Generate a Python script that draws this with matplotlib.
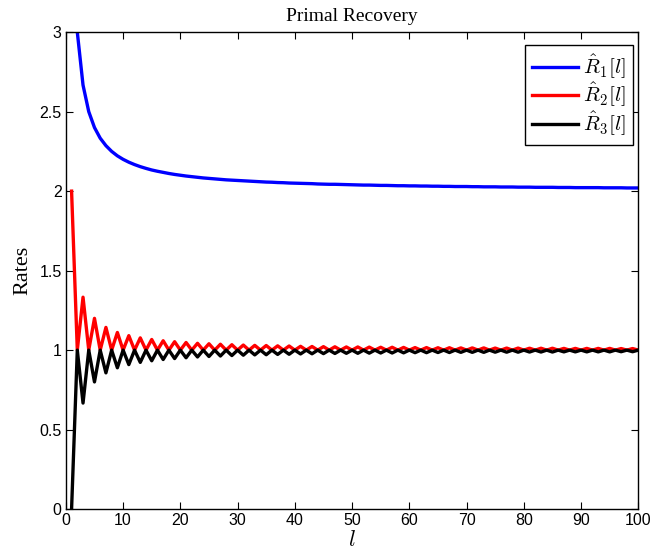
import matplotlib
matplotlib.use("Agg")
import matplotlib.pyplot as plt

# iteration index l = 1..100
iterations = list(range(1, 101))

rate_1 = [
    4.000, 3.000, 2.667, 2.500, 2.400, 2.333, 2.286, 2.250, 2.222, 2.200,
    2.182, 2.167, 2.154, 2.143, 2.133, 2.125, 2.118, 2.111, 2.105, 2.100,
    2.095, 2.091, 2.087, 2.083, 2.080, 2.077, 2.074, 2.071, 2.069, 2.067,
    2.065, 2.063, 2.061, 2.059, 2.057, 2.056, 2.054, 2.053, 2.051, 2.050,
    2.049, 2.048, 2.047, 2.045, 2.044, 2.043, 2.043, 2.042, 2.041, 2.040,
    2.039, 2.038, 2.038, 2.037, 2.036, 2.036, 2.035, 2.034, 2.034, 2.033,
    2.033, 2.032, 2.032, 2.031, 2.031, 2.030, 2.030, 2.029, 2.029, 2.029,
    2.028, 2.028, 2.027, 2.027, 2.027, 2.026, 2.026, 2.026, 2.025, 2.025,
    2.025, 2.024, 2.024, 2.024, 2.024, 2.023, 2.023, 2.023, 2.022, 2.022,
    2.022, 2.022, 2.022, 2.021, 2.021, 2.021, 2.021, 2.020, 2.020, 2.020,
]

rate_2 = [
    2.000, 1.0, 1.333, 1.0, 1.200, 1.0, 1.143, 1.0, 1.111, 1.0,
    1.091, 1.0, 1.077, 1.0, 1.067, 1.0, 1.059, 1.0, 1.053, 1.0,
    1.048, 1.0, 1.043, 1.0, 1.040, 1.0, 1.037, 1.0, 1.034, 1.0,
    1.032, 1.0, 1.030, 1.0, 1.029, 1.0, 1.027, 1.0, 1.026, 1.0,
    1.024, 1.0, 1.023, 1.0, 1.022, 1.0, 1.021, 1.0, 1.020, 1.0,
    1.020, 1.0, 1.019, 1.0, 1.018, 1.0, 1.018, 1.0, 1.017, 1.0,
    1.016, 1.0, 1.016, 1.0, 1.015, 1.0, 1.015, 1.0, 1.014, 1.0,
    1.014, 1.0, 1.014, 1.0, 1.013, 1.0, 1.013, 1.0, 1.013, 1.0,
    1.012, 1.0, 1.012, 1.0, 1.012, 1.0, 1.011, 1.0, 1.011, 1.0,
    1.011, 1.0, 1.011, 1.0, 1.011, 1.0, 1.010, 1.0, 1.010, 1.0,
]

rate_3 = [
    0.000, 1.0, 0.667, 1.0, 0.800, 1.0, 0.857, 1.0, 0.889, 1.0,
    0.909, 1.0, 0.923, 1.0, 0.933, 1.0, 0.941, 1.0, 0.947, 1.0,
    0.952, 1.0, 0.957, 1.0, 0.960, 1.0, 0.963, 1.0, 0.966, 1.0,
    0.968, 1.0, 0.970, 1.0, 0.971, 1.0, 0.973, 1.0, 0.974, 1.0,
    0.976, 1.0, 0.977, 1.0, 0.978, 1.0, 0.979, 1.0, 0.980, 1.0,
    0.980, 1.0, 0.981, 1.0, 0.982, 1.0, 0.982, 1.0, 0.983, 1.0,
    0.984, 1.0, 0.984, 1.0, 0.985, 1.0, 0.985, 1.0, 0.986, 1.0,
    0.986, 1.0, 0.986, 1.0, 0.987, 1.0, 0.987, 1.0, 0.987, 1.0,
    0.988, 1.0, 0.988, 1.0, 0.988, 1.0, 0.989, 1.0, 0.989, 1.0,
    0.989, 1.0, 0.989, 1.0, 0.989, 1.0, 0.990, 1.0, 0.990, 1.0,
]

series_labels = [r"$\hat{R}_1[l]$", r"$\hat{R}_2[l]$", r"$\hat{R}_3[l]$"]
series_colors = ["#0000ff", "#ff0000", "#000000"]

x_ticks = list(range(0, 101, 10))
y_ticks = [0, 0.5, 1, 1.5, 2, 2.5, 3]
y_tick_labels = ["0", "0.5", "1", "1.5", "2", "2.5", "3"]

plt.rcParams["mathtext.fontset"] = "cm"
plt.rcParams["font.family"] = ["Liberation Sans", "DejaVu Sans"]

fig = plt.figure(figsize=(6.52, 5.54), dpi=100)
ax = fig.add_axes([0.101, 0.081, 0.878, 0.861])

for values, label, color in zip([rate_1, rate_2, rate_3], series_labels, series_colors):
    ax.plot(iterations, values, color=color, linewidth=2.4, label=label)

ax.set_xlim(0, 100)
ax.set_ylim(0, 3)
ax.set_xticks(x_ticks)
ax.set_yticks(y_ticks)
ax.set_yticklabels(y_tick_labels)
ax.tick_params(direction="in", top=True, right=True, labelsize=11.5, length=5, width=0.8, pad=3)
for spine in ax.spines.values():
    spine.set_linewidth(1.0)

ax.set_title("Primal Recovery", fontfamily="Liberation Serif", fontsize=14, pad=8)
ax.set_ylabel("Rates", fontfamily="Liberation Serif", fontsize=16, labelpad=5)
ax.set_xlabel(r"$l$", fontsize=16, labelpad=1)

leg = ax.legend(loc="upper right", bbox_to_anchor=(0.991, 0.973), fontsize=15,
                fancybox=False, framealpha=1, edgecolor="black",
                handlelength=2.2, borderpad=0.35, labelspacing=0.0,
                handletextpad=0.25, borderaxespad=0.0)
leg.get_frame().set_linewidth(1.0)

fig.savefig("out.png", dpi=100)
